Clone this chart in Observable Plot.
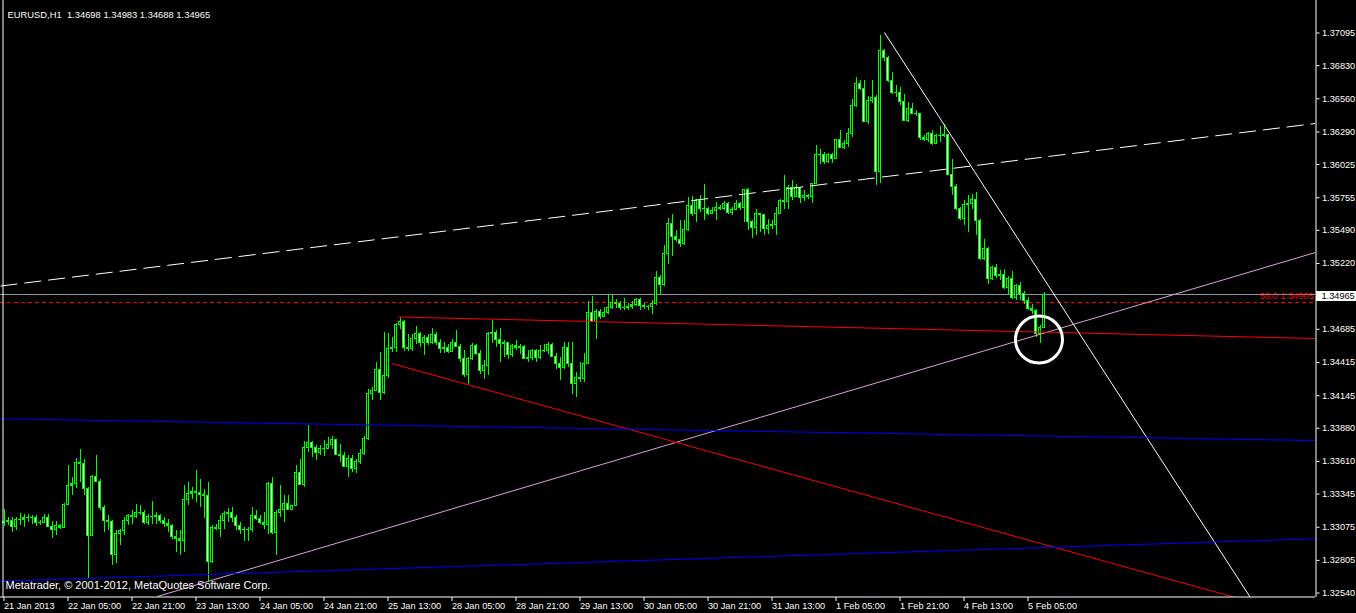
<!DOCTYPE html>
<html><head><meta charset="utf-8">
<script src="https://cdn.jsdelivr.net/npm/d3@7"></script>
<script src="https://cdn.jsdelivr.net/npm/@observablehq/plot@0.6"></script>
<style>
html,body{margin:0;padding:0;background:#000;overflow:hidden}
#chart svg{display:block}
</style></head><body><div id="chart"></div>
<script>
// ---------- DATA ----------
const symbolTitle = "EURUSD,H1  1.34698 1.34983 1.34688 1.34965";
const copyright = "Metatrader, © 2001-2012, MetaQuotes Software Corp.";

const opens = [
1.33113,1.33118,1.33124,1.33080,1.33132,1.33135,1.33148,1.33151,1.33150,1.33107,
1.33113,1.33148,1.33080,1.33053,1.33086,1.33072,1.33254,1.33408,1.33424,1.33595,
1.33590,1.33384,1.33004,1.33481,1.33446,1.33235,1.33124,1.33121,1.32847,1.33021,
1.33042,1.33124,1.33167,1.33156,1.33194,1.33191,1.33107,1.33159,1.33162,1.33164,
1.33124,1.33099,1.33086,1.32994,1.32977,1.32966,1.33294,1.33346,1.33362,1.33357,
1.33335,1.33330,1.32796,1.33067,1.33064,1.33124,1.33186,1.33189,1.33154,1.33086,
1.33050,1.33053,1.33056,1.33167,1.33140,1.33113,1.33096,1.33424,1.33026,1.33194,
1.33213,1.33262,1.33216,1.33248,1.33514,1.33416,1.33717,1.33758,1.33717,1.33682,
1.33714,1.33709,1.33742,1.33782,1.33660,1.33655,1.33568,1.33633,1.33546,1.33606,
1.33668,1.33796,1.34157,1.34184,1.34352,1.34170,1.34306,1.34522,1.34536,1.34720,
1.34747,1.34536,1.34522,1.34604,1.34645,1.34577,1.34612,1.34577,1.34639,1.34577,
1.34522,1.34536,1.34503,1.34577,1.34544,1.34441,1.34311,1.34441,1.34550,1.34487,
1.34346,1.34387,1.34645,1.34658,1.34601,1.34569,1.34574,1.34474,1.34550,1.34536,
1.34539,1.34447,1.34455,1.34509,1.34455,1.34509,1.34506,1.34558,1.34463,1.34406,
1.34368,1.34531,1.34401,1.34243,1.34287,1.34284,1.34401,1.34815,1.34747,1.34826,
1.34788,1.34815,1.34856,1.34899,1.34888,1.34861,1.34858,1.34867,1.34880,1.34924,
1.34875,1.34869,1.34867,1.34888,1.35100,1.35043,1.35295,1.35539,1.35436,1.35409,
1.35376,1.35490,1.35685,1.35620,1.35728,1.35661,1.35664,1.35626,1.35648,1.35675,
1.35667,1.35702,1.35629,1.35653,1.35708,1.35670,1.35816,1.35561,1.35507,1.35621,
1.35615,1.35499,1.35526,1.35534,1.35626,1.35729,1.35724,1.35838,1.35764,1.35832,
1.35751,1.35770,1.35762,1.35865,1.36103,1.36100,1.36049,1.36103,1.36068,1.36225,
1.36163,1.36190,1.36271,1.36502,1.36683,1.36637,1.36371,1.36542,1.36564,1.35968,
1.36949,1.36889,1.36705,1.36610,1.36607,1.36537,1.36380,1.36480,1.36439,1.36434,
1.36239,1.36228,1.36277,1.36195,1.36258,1.36255,1.36266,1.35941,1.35846,1.35661,
1.35580,1.35694,1.35702,1.35735,1.35567,1.35255,1.35336,1.35092,1.35182,1.35119,
1.35128,1.35019,1.35092,1.34943,1.35038,1.34970,1.34916,1.34849,1.34835,1.34647,
1.34698];

const highs = [
1.33216,1.33154,1.33154,1.33154,1.33189,1.33181,1.33178,1.33172,1.33167,1.33126,
1.33178,1.33175,1.33118,1.33118,1.33096,1.33270,1.33574,1.33479,1.33633,1.33704,
1.33628,1.33397,1.33492,1.33660,1.33465,1.33248,1.33167,1.33126,1.33050,1.33059,
1.33154,1.33181,1.33208,1.33262,1.33248,1.33208,1.33175,1.33284,1.33194,1.33178,
1.33154,1.33140,1.33099,1.33045,1.33045,1.33416,1.33438,1.33397,1.33533,1.33465,
1.33384,1.33438,1.33086,1.33099,1.33167,1.33200,1.33227,1.33235,1.33167,1.33113,
1.33072,1.33072,1.33235,1.33208,1.33167,1.33194,1.33438,1.33479,1.33208,1.33411,
1.33330,1.33330,1.33254,1.33574,1.33628,1.33769,1.33904,1.33769,1.33742,1.33742,
1.33777,1.33804,1.33812,1.33790,1.33750,1.33682,1.33660,1.33655,1.33628,1.33709,
1.33817,1.34197,1.34211,1.34414,1.34495,1.34658,1.34650,1.34617,1.34731,1.34780,
1.34758,1.34645,1.34645,1.34704,1.34658,1.34631,1.34639,1.34693,1.34658,1.34604,
1.34577,1.34558,1.34604,1.34672,1.34558,1.34509,1.34455,1.34571,1.34563,1.34509,
1.34428,1.34658,1.34753,1.34672,1.34693,1.34596,1.34577,1.34563,1.34590,1.34563,
1.34550,1.34509,1.34522,1.34522,1.34550,1.34563,1.34577,1.34569,1.34487,1.34455,
1.34577,1.34577,1.34577,1.34333,1.34414,1.34487,1.34915,1.34948,1.34848,1.34848,
1.34861,1.34964,1.34956,1.34926,1.34910,1.34937,1.34894,1.34910,1.34937,1.34937,
1.34894,1.34875,1.34921,1.35154,1.35119,1.35363,1.35587,1.35615,1.35490,1.35566,
1.35571,1.35761,1.35769,1.35742,1.35770,1.35865,1.35675,1.35675,1.35716,1.35689,
1.35724,1.35716,1.35675,1.35729,1.35716,1.35824,1.35830,1.35567,1.35661,1.35626,
1.35621,1.35580,1.35567,1.35675,1.35743,1.35932,1.35851,1.35897,1.35865,1.35838,
1.35811,1.35783,1.35870,1.36176,1.36149,1.36122,1.36114,1.36114,1.36231,1.36304,
1.36217,1.36317,1.36556,1.36737,1.36705,1.36705,1.36575,1.36710,1.36583,1.37071,
1.36962,1.36900,1.36773,1.36664,1.36651,1.36596,1.36529,1.36521,1.36461,1.36434,
1.36258,1.36285,1.36298,1.36271,1.36331,1.36353,1.36270,1.36068,1.35865,1.35675,
1.35735,1.35770,1.35778,1.35797,1.35580,1.35418,1.35350,1.35193,1.35209,1.35160,
1.35174,1.35111,1.35155,1.35052,1.35065,1.34992,1.34943,1.34889,1.34849,1.34712,
1.34983];

const lows = [
1.33080,1.33091,1.33032,1.33045,1.33086,1.33072,1.33113,1.33099,1.33080,1.33086,
1.33105,1.33075,1.32985,1.33004,1.33059,1.33069,1.33248,1.33330,1.33389,1.33438,
1.33330,1.32658,1.32996,1.33438,1.33208,1.33032,1.33045,1.32766,1.32780,1.32923,
1.33004,1.33086,1.33099,1.33145,1.33167,1.33099,1.33086,1.33099,1.33099,1.33107,
1.33072,1.33032,1.32977,1.32869,1.32842,1.32869,1.33248,1.33303,1.33275,1.33235,
1.33145,1.32625,1.32782,1.33045,1.32991,1.33059,1.33113,1.33113,1.33045,1.33018,
1.32958,1.32956,1.33032,1.33126,1.33096,1.33059,1.33018,1.33018,1.32842,1.33154,
1.33113,1.33208,1.33213,1.33248,1.33411,1.33397,1.33682,1.33641,1.33614,1.33655,
1.33649,1.33709,1.33709,1.33655,1.33601,1.33560,1.33479,1.33519,1.33514,1.33587,
1.33655,1.33780,1.34102,1.34184,1.34102,1.34157,1.34287,1.34495,1.34495,1.34685,
1.34503,1.34503,1.34503,1.34563,1.34536,1.34468,1.34550,1.34563,1.34550,1.34487,
1.34487,1.34487,1.34495,1.34536,1.34414,1.34292,1.34238,1.34428,1.34468,1.34319,
1.34279,1.34306,1.34569,1.34536,1.34414,1.34455,1.34441,1.34455,1.34509,1.34482,
1.34441,1.34414,1.34428,1.34414,1.34441,1.34495,1.34482,1.34455,1.34360,1.34265,
1.34360,1.34373,1.34157,1.34130,1.34251,1.34251,1.34401,1.34739,1.34604,1.34766,
1.34780,1.34807,1.34848,1.34856,1.34840,1.34834,1.34834,1.34848,1.34867,1.34834,
1.34848,1.34840,1.34807,1.34875,1.34970,1.35037,1.35213,1.35281,1.35390,1.35349,
1.35363,1.35484,1.35606,1.35552,1.35634,1.35567,1.35607,1.35621,1.35567,1.35648,
1.35648,1.35621,1.35607,1.35648,1.35648,1.35553,1.35485,1.35426,1.35445,1.35472,
1.35445,1.35453,1.35499,1.35445,1.35621,1.35661,1.35661,1.35729,1.35756,1.35708,
1.35724,1.35743,1.35708,1.35859,1.36027,1.36022,1.36033,1.36033,1.36068,1.36157,
1.36149,1.36163,1.36244,1.36493,1.36624,1.36366,1.36353,1.36521,1.35851,1.35870,
1.36867,1.36691,1.36596,1.36569,1.36502,1.36374,1.36370,1.36434,1.36412,1.36222,
1.36212,1.36203,1.36176,1.36190,1.36203,1.36244,1.35932,1.35770,1.35648,1.35567,
1.35526,1.35472,1.35661,1.35445,1.35241,1.35241,1.35052,1.35084,1.35100,1.35084,
1.35011,1.34970,1.34930,1.34922,1.34916,1.34884,1.34835,1.34808,1.34618,1.34573,
1.34688];

const closes = [
1.33118,1.33124,1.33080,1.33132,1.33135,1.33148,1.33151,1.33150,1.33107,1.33113,
1.33148,1.33080,1.33053,1.33086,1.33072,1.33254,1.33408,1.33424,1.33595,1.33590,
1.33384,1.33004,1.33481,1.33446,1.33235,1.33124,1.33121,1.32847,1.33021,1.33042,
1.33124,1.33167,1.33156,1.33194,1.33191,1.33107,1.33159,1.33162,1.33164,1.33124,
1.33099,1.33086,1.32994,1.32977,1.32966,1.33294,1.33346,1.33362,1.33357,1.33335,
1.33330,1.32796,1.33067,1.33064,1.33124,1.33186,1.33189,1.33154,1.33086,1.33050,
1.33053,1.33056,1.33167,1.33140,1.33113,1.33096,1.33424,1.33026,1.33194,1.33213,
1.33262,1.33216,1.33248,1.33514,1.33416,1.33717,1.33758,1.33717,1.33682,1.33714,
1.33709,1.33742,1.33782,1.33660,1.33655,1.33568,1.33633,1.33546,1.33606,1.33668,
1.33796,1.34157,1.34184,1.34352,1.34170,1.34306,1.34522,1.34536,1.34720,1.34747,
1.34536,1.34522,1.34604,1.34645,1.34577,1.34612,1.34577,1.34639,1.34577,1.34522,
1.34536,1.34503,1.34577,1.34544,1.34441,1.34311,1.34441,1.34550,1.34487,1.34346,
1.34387,1.34645,1.34658,1.34601,1.34569,1.34574,1.34474,1.34550,1.34536,1.34539,
1.34447,1.34455,1.34509,1.34455,1.34509,1.34506,1.34558,1.34463,1.34406,1.34368,
1.34531,1.34401,1.34243,1.34287,1.34284,1.34401,1.34815,1.34747,1.34826,1.34788,
1.34815,1.34856,1.34899,1.34888,1.34861,1.34858,1.34867,1.34880,1.34924,1.34875,
1.34869,1.34867,1.34888,1.35100,1.35043,1.35295,1.35539,1.35436,1.35409,1.35376,
1.35490,1.35685,1.35620,1.35728,1.35661,1.35664,1.35626,1.35648,1.35675,1.35667,
1.35702,1.35629,1.35653,1.35708,1.35670,1.35816,1.35561,1.35507,1.35621,1.35615,
1.35499,1.35526,1.35534,1.35626,1.35729,1.35724,1.35838,1.35764,1.35832,1.35751,
1.35770,1.35762,1.35865,1.36103,1.36100,1.36049,1.36103,1.36068,1.36225,1.36163,
1.36190,1.36271,1.36502,1.36683,1.36637,1.36371,1.36542,1.36564,1.35968,1.36949,
1.36889,1.36705,1.36610,1.36607,1.36537,1.36380,1.36480,1.36439,1.36434,1.36239,
1.36228,1.36277,1.36195,1.36258,1.36255,1.36266,1.35941,1.35846,1.35661,1.35580,
1.35694,1.35702,1.35735,1.35567,1.35255,1.35336,1.35092,1.35182,1.35119,1.35128,
1.35019,1.35092,1.34943,1.35038,1.34970,1.34916,1.34849,1.34835,1.34647,1.34698,
1.34965];

// price axis ticks (right side)
const priceTicks = [1.37095,1.36830,1.36560,1.36290,1.36025,1.35755,1.35490,1.35220,
  1.34685,1.34415,1.34145,1.33880,1.33610,1.33345,1.33075,1.32805,1.32540];
// time axis: bar index of each label and its text
const timeTickBars = [0,16,32,48,64,80,96,112,128,144,160,176,192,208,224,240,256];
const timeTickLabels = ["21 Jan 2013","22 Jan 05:00","22 Jan 21:00","23 Jan 13:00","24 Jan 05:00",
  "24 Jan 21:00","25 Jan 13:00","28 Jan 05:00","28 Jan 21:00","29 Jan 13:00","30 Jan 05:00",
  "30 Jan 21:00","31 Jan 13:00","1 Feb 05:00","1 Feb 21:00","4 Feb 13:00","5 Feb 05:00"];

const bidPrice = 1.34965;
const fiboLevel = 1.34905;
const fiboLabel = "50.0 1.34905";

// trend lines drawn on the chart (bar index, price)
const trendNames      = ["channelDash","support","flatTop","fallRed","fallWhite","blueTop","blueBottom"];
const trendStartBar   = [-0.875, 38.375, 98.6, 96.9, 220.1, -0.875, -0.875];
const trendStartPrice = [1.35037, 1.32512, 1.34785, 1.34407, 1.37099, 1.33957, 1.32636];
const trendEndBar     = [327.875, 327.875, 327.875, 307.9, 311.6, 327.875, 327.875];
const trendEndPrice   = [1.36359, 1.35310, 1.34610, 1.32503, 1.32503, 1.33780, 1.32981];

// highlighted area (circle)
const circleBar = 258.75;
const circlePrice = 1.34602;

// ---------- STYLES ----------
const lineStyle = {
  channelDash: {stroke: "#ffffff", dash: "17,7"},
  support:     {stroke: "#dda0dd", dash: null},
  flatTop:     {stroke: "#ff0000", dash: null},
  fallRed:     {stroke: "#ff0000", dash: null},
  fallWhite:   {stroke: "#ffffff", dash: null},
  blueTop:     {stroke: "#0000ff", dash: null},
  blueBottom:  {stroke: "#0000ff", dash: null}
};
const GREEN = "#00ff00";
const FONT = "'Liberation Sans', Arial, sans-serif";

// ---------- BUILD ----------
const bars = closes.map((c, i) => ({i, open: opens[i], high: highs[i], low: lows[i], close: c}));
const trends = trendNames.map((n, k) => ({name: n, x1: trendStartBar[k], y1: trendStartPrice[k], x2: trendEndBar[k], y2: trendEndPrice[k]}));

const xDomain = [-0.875, 327.875];
const yDomain = [1.325034, 1.373594];
const fmt5 = d3.format(".5f");

const lineMarks = trends.map(t => Plot.link([t], {
  x1: "x1", y1: "y1", x2: "x2", y2: "y2",
  stroke: lineStyle[t.name].stroke,
  strokeWidth: 1,
  strokeDasharray: lineStyle[t.name].dash || undefined,
  clip: true
}));

const chart = Plot.plot({
  width: 1356, height: 613,
  marginLeft: 0, marginRight: 41, marginTop: 0, marginBottom: 16,
  style: {background: "#000", color: "#fff", fontFamily: FONT, fontSize: "9.2px", overflow: "visible"},
  x: {domain: xDomain, axis: null},
  y: {domain: yDomain, axis: null},
  marks: [
    // bid line & fibo level
    Plot.ruleY([bidPrice], {stroke: "#8a96a6", shapeRendering: "crispEdges"}),
    Plot.ruleY([fiboLevel], {stroke: "#ff0000", strokeDasharray: "4,3", shapeRendering: "crispEdges"}),
    // candles: wicks
    Plot.ruleX(bars, {x: "i", y1: "low", y2: "high", stroke: GREEN, shapeRendering: "crispEdges"}),
    // candle bodies: outline
    Plot.rect(bars, {x1: d => d.i - 0.375, x2: d => d.i + 0.375, y1: "open", y2: "close",
      insetTop: -0.5, insetBottom: -0.5, fill: GREEN, shapeRendering: "crispEdges"}),
    // bull bodies (black) and bear bodies (white)
    Plot.rect(bars.filter(d => d.close > d.open + 0.00018), {x1: d => d.i - 0.375, x2: d => d.i + 0.375, y1: "open", y2: "close",
      insetLeft: 1, insetRight: 1, insetTop: 0.5, insetBottom: 0.5, fill: "#000", shapeRendering: "crispEdges"}),
    Plot.rect(bars.filter(d => d.close < d.open - 0.00018), {x1: d => d.i - 0.375, x2: d => d.i + 0.375, y1: "open", y2: "close",
      insetLeft: 1, insetRight: 1, insetTop: 0.5, insetBottom: 0.5, fill: "#fff", shapeRendering: "crispEdges"}),
    // trend lines
    ...lineMarks,
    // circle
    Plot.dot([{x: circleBar, y: circlePrice}], {x: "x", y: "y", r: 23.5, stroke: "#fff", strokeWidth: 3, fill: "none"}),
    // frame
    Plot.ruleX([xDomain[0]], {dx: 2.5, stroke: "#fff"}),
    Plot.ruleX([xDomain[1]], {dx: 0.5, stroke: "#fff"}),
    Plot.ruleY([yDomain[0]], {dy: -0.5, stroke: "#fff"}),
    // axes
    Plot.axisY(priceTicks, {anchor: "right", tickSize: 3, tickPadding: 3, tickFormat: fmt5, dx: 0.5}),
    Plot.axisX(timeTickBars, {anchor: "bottom", tickSize: 4, tickPadding: 1,
      tickFormat: d => timeTickLabels[timeTickBars.indexOf(d)], textAnchor: "start"}),
    // texts
    Plot.text([fiboLabel], {text: d => d, y: () => fiboLevel, frameAnchor: "right", textAnchor: "end", dx: -2, dy: -6, fill: "#ff0000"}),
    Plot.text([symbolTitle], {text: d => d, frameAnchor: "top-left", textAnchor: "start", dx: 7, dy: 11, fill: "#fff", fontSize: 9.4}),
    Plot.text([copyright], {text: d => d, frameAnchor: "bottom-left", textAnchor: "start", dx: 5, dy: -9, fill: "#fff", fontSize: 11}),
    Plot.text([bidPrice], {text: d => fmt5(d), y: d => d, frameAnchor: "right", textAnchor: "start", dx: 6, dy: 1, fill: "#000"})
  ]
});
document.getElementById("chart").append(chart);

// white box behind the bid price label on the price axis
(function () {
  const ns = "http://www.w3.org/2000/svg";
  const yPix = chart.scale("y").apply(bidPrice);
  const xRight = chart.scale("x").range[1];
  const r = document.createElementNS(ns, "rect");
  r.setAttribute("x", xRight + 1);
  r.setAttribute("y", Math.floor(yPix) - 3);
  r.setAttribute("width", 1356 - xRight - 1);
  r.setAttribute("height", 10);
  r.setAttribute("fill", "#fff");
  chart.insertBefore(r, chart.lastChild);
})();
</script>
</body></html>
